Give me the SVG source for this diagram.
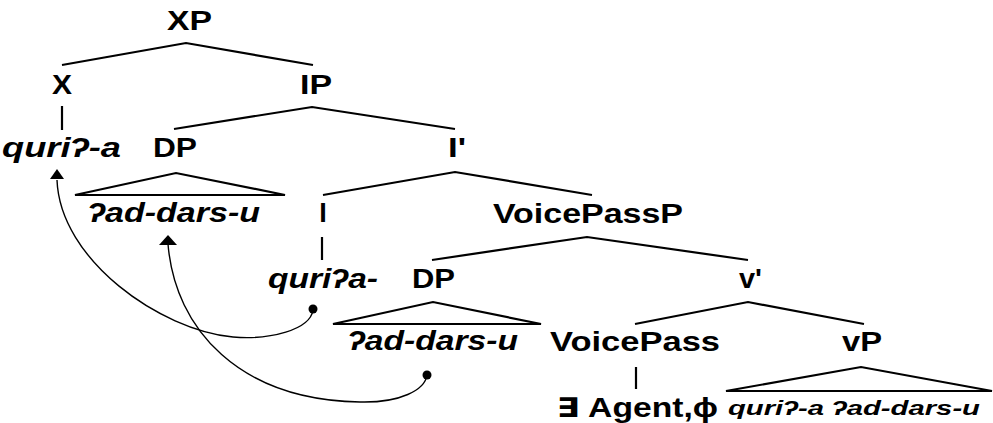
<svg xmlns="http://www.w3.org/2000/svg" width="993" height="423" viewBox="0 0 993 423">
<style>
.lbl{font-family:"Liberation Sans","DejaVu Sans",Arial,sans-serif;font-weight:bold;font-size:27px;fill:#000}
.it{font-style:italic}
.sm{font-size:20px}
.br{fill:none;stroke:#000;stroke-width:2.2;stroke-linejoin:miter}
.arc{fill:none;stroke:#000;stroke-width:1.4}
</style>
<rect width="993" height="423" fill="#fff"/>
<g id="connectors">
<polyline class="br" points="62,65 186,43 313,65"/>
<polyline class="br" points="174,129 312,107 455,129"/>
<polyline class="br" points="323,195 455,172 592,195"/>
<polyline class="br" points="432,260 587,237 748,260"/>
<polyline class="br" points="635,324 748,302 864,324"/>
<line class="br" x1="62" y1="106" x2="62" y2="130"/>
<line class="br" x1="322" y1="237" x2="322" y2="260"/>
<line class="br" x1="636" y1="367" x2="636" y2="389"/>
<polygon class="br" points="75,195 176,173 285,195"/>
<polygon class="br" points="333,324 433,302 541,324"/>
<polygon class="br" points="726,391 861,367 992,391"/>
<path class="arc" d="M313,310 C310,330 270,340 233,337 C160,330 60,260 57,180"/>
<polygon points="57,169 50,179 64,179" fill="#000"/>
<circle cx="313" cy="309" r="4.5" fill="#000"/>
<path class="arc" d="M168,244 C175,330 240,400 360,402 C400,403 425,390 427,375"/>
<polygon points="168,235 159,245 177,245" fill="#000"/>
<circle cx="427" cy="375" r="4.5" fill="#000"/>
</g>
<g id="XP"><text class="lbl" x="167" y="30" textLength="45" lengthAdjust="spacingAndGlyphs">XP</text></g>
<g id="X"><text class="lbl" x="52" y="94" textLength="20" lengthAdjust="spacingAndGlyphs">X</text></g>
<g id="IP"><text class="lbl" x="300" y="94" textLength="32" lengthAdjust="spacingAndGlyphs">IP</text></g>
<g id="X-head"><text class="lbl it" x="2" y="157" textLength="119" lengthAdjust="spacingAndGlyphs">quriʔ-a</text></g>
<g id="DP1"><text class="lbl" x="153" y="157" textLength="44" lengthAdjust="spacingAndGlyphs">DP</text></g>
<g id="Ibar"><text class="lbl" x="448" y="157" textLength="18" lengthAdjust="spacingAndGlyphs">I'</text></g>
<g id="DP1-content"><text class="lbl it" x="88" y="222" textLength="172" lengthAdjust="spacingAndGlyphs">ʔad-dars-u</text></g>
<g id="I"><text class="lbl" x="323" y="222" text-anchor="middle">I</text></g>
<g id="VoicePassP"><text class="lbl" x="493" y="223" textLength="190" lengthAdjust="spacingAndGlyphs">VoicePassP</text></g>
<g id="I-head"><text class="lbl it" x="268" y="288" textLength="110" lengthAdjust="spacingAndGlyphs">quriʔa-</text></g>
<g id="DP2"><text class="lbl" x="412" y="288" textLength="43" lengthAdjust="spacingAndGlyphs">DP</text></g>
<g id="vbar"><text class="lbl" x="739" y="288" textLength="23" lengthAdjust="spacingAndGlyphs">v'</text></g>
<g id="DP2-content"><text class="lbl it" x="348" y="350" textLength="170" lengthAdjust="spacingAndGlyphs">ʔad-dars-u</text></g>
<g id="VoicePass"><text class="lbl" x="550" y="351" textLength="170" lengthAdjust="spacingAndGlyphs">VoicePass</text></g>
<g id="vP"><text class="lbl" x="842" y="351" textLength="40" lengthAdjust="spacingAndGlyphs">vP</text></g>
<g id="VoicePass-head"><text class="lbl" x="557" y="417" textLength="161" lengthAdjust="spacingAndGlyphs">∃ Agent,ϕ</text></g>
<g id="vP-content"><text class="lbl it sm" x="728" y="415" textLength="252" lengthAdjust="spacingAndGlyphs">quriʔ-a ʔad-dars-u</text></g>
</svg>
